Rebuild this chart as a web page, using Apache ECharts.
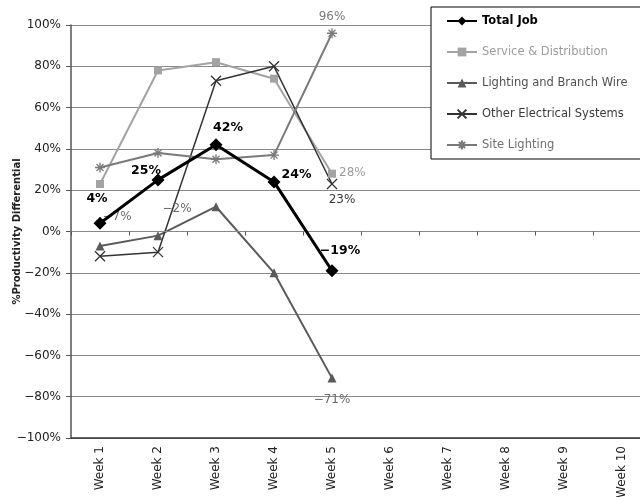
<!DOCTYPE html>
<html>
<head>
<meta charset="utf-8">
<script src="https://cdn.jsdelivr.net/npm/echarts@6/dist/echarts.min.js"></script>
<style>
  html, body { margin: 0; padding: 0; background: #fff; }
  #chart { width: 640px; height: 497px; }
</style>
</head>
<body>
<div id="chart"></div>
<script>
// Weekly productivity differential by work area
const weeks = ['Week 1', 'Week 2', 'Week 3', 'Week 4', 'Week 5', 'Week 6', 'Week 7', 'Week 8', 'Week 9', 'Week 10'];
const totalJob = [4, 25, 42, 24, -19];
const serviceDistribution = [23, 78, 82, 74, 28];
const lightingBranchWire = [-7, -2, 12, -20, -71];
const otherElectrical = [-12, -10, 73, 80, 23];
const siteLighting = [31, 38, 35, 37, 96];
const yTicks = { min: -100, max: 100, step: 20 };

const FONT = 'DejaVu Sans';
const pct = v => (v < 0 ? '\u2212' + Math.abs(v) : String(v)) + '%';

const xMark = 'path://M0,0L10,10M10,0L0,10';
const starMark = 'path://M5,0L5,10M0,5L10,5M1.5,1.5L8.5,8.5M8.5,1.5L1.5,8.5';

// label placement for points that carry a value label
function labelled(values, spec, style) {
  return values.map((v, i) => {
    const s = spec[i];
    if (!s) return { value: v, label: { show: false } };
    return {
      value: v,
      label: Object.assign({
        show: true,
        position: s.pos,
        offset: s.off || [0, 0],
        formatter: p => pct(p.value),
        fontFamily: FONT
      }, style)
    };
  });
}

const chart = echarts.init(document.getElementById('chart'));

chart.setOption({
  animation: false,
  backgroundColor: '#fff',
  grid: { left: 71, top: 25, right: -11, bottom: 59, containLabel: false, outerBoundsMode: 'none' },
  legend: {
    orient: 'vertical',
    left: 431,
    top: 7,
    padding: [8, 60, 8, 15],
    itemGap: 19,
    itemWidth: 30,
    itemHeight: 11,
    backgroundColor: '#fff',
    borderColor: '#000',
    borderWidth: 1,
    textStyle: { fontFamily: FONT, fontSize: 11.5 },
    data: [
      { name: 'Total Job', textStyle: { color: '#000', fontWeight: 'bold' } },
      { name: 'Service & Distribution', textStyle: { color: '#9c9c9c' } },
      { name: 'Lighting and Branch Wire', textStyle: { color: '#505050' } },
      { name: 'Other Electrical Systems', textStyle: { color: '#3a3a3a' } },
      { name: 'Site Lighting', textStyle: { color: '#6e6e6e' } }
    ]
  },
  xAxis: [
    {
      type: 'category',
      data: weeks,
      boundaryGap: true,
      axisLine: { onZero: true, lineStyle: { color: '#888', width: 1 } },
      axisTick: { show: true, length: 4, interval: 0, lineStyle: { color: '#555' } },
      axisLabel: { show: false, interval: 0 },
      z: 3
    },
    {
      type: 'category',
      data: weeks,
      position: 'bottom',
      boundaryGap: true,
      axisLine: { onZero: false, show: true, lineStyle: { color: '#333', width: 1.5 } },
      axisTick: { show: false },
      axisLabel: {
        rotate: 90,
        interval: 0,
        margin: 8,
        fontFamily: FONT,
        fontSize: 12,
        color: '#222'
      }
    }
  ],
  yAxis: {
    type: 'value',
    min: yTicks.min,
    max: yTicks.max,
    interval: yTicks.step,
    name: '%Productivity Differential',
    nameLocation: 'middle',
    nameGap: 49,
    nameMoveOverlap: false,
    nameTextStyle: { fontFamily: FONT, fontSize: 10, fontWeight: 'bold', color: '#222' },
    axisLine: { show: true, lineStyle: { color: '#555', width: 1.5 } },
    axisTick: { show: true, length: 5, lineStyle: { color: '#555' } },
    axisLabel: { fontFamily: FONT, fontSize: 12, color: '#222', margin: 10, formatter: v => pct(v) },
    splitLine: { show: true, lineStyle: { color: '#8a8a8a', width: 1 } }
  },
  series: [
    {
      name: 'Lighting and Branch Wire',
      type: 'line',
      xAxisIndex: 0,
      symbol: 'triangle',
      symbolSize: 9,
      lineStyle: { color: '#5a5a5a', width: 2 },
      itemStyle: { color: '#5a5a5a' },
      data: labelled(lightingBranchWire, {
        0: { pos: 'top', off: [17, -14] },
        1: { pos: 'top', off: [19, -11] },
        4: { pos: 'bottom', off: [0, 6] }
      }, { color: '#6a6a6a', fontSize: 12 }),
      z: 2
    },
    {
      name: 'Service & Distribution',
      type: 'line',
      xAxisIndex: 0,
      symbol: 'rect',
      symbolSize: 8,
      lineStyle: { color: '#a3a3a3', width: 2 },
      itemStyle: { color: '#a3a3a3' },
      data: labelled(serviceDistribution, {
        4: { pos: 'right', off: [-2, -1] }
      }, { color: '#9c9c9c', fontSize: 12 }),
      z: 2
    },
    {
      name: 'Other Electrical Systems',
      type: 'line',
      xAxisIndex: 0,
      symbol: xMark,
      symbolSize: 10,
      lineStyle: { color: '#333', width: 1.5 },
      itemStyle: { color: 'transparent', borderColor: '#333', borderWidth: 1.3 },
      data: labelled(otherElectrical, {
        4: { pos: 'bottom', off: [10, -1] }
      }, { color: '#3a3a3a', fontSize: 12 }),
      z: 2
    },
    {
      name: 'Site Lighting',
      type: 'line',
      xAxisIndex: 0,
      symbol: starMark,
      symbolSize: 10,
      lineStyle: { color: '#7a7a7a', width: 2 },
      itemStyle: { color: 'transparent', borderColor: '#7a7a7a', borderWidth: 1.3 },
      data: labelled(siteLighting, {
        4: { pos: 'top', off: [0, 0] }
      }, { color: '#7a7a7a', fontSize: 12 }),
      z: 2
    },
    {
      name: 'Total Job',
      type: 'line',
      xAxisIndex: 0,
      symbol: 'diamond',
      symbolSize: 13,
      lineStyle: { color: '#000', width: 3 },
      itemStyle: { color: '#000' },
      data: labelled(totalJob, {
        0: { pos: 'top', off: [-3, -6] },
        1: { pos: 'top', off: [-12, 9] },
        2: { pos: 'top', off: [12, 1] },
        3: { pos: 'right', off: [-4, -7] },
        4: { pos: 'top', off: [8, -2] }
      }, { color: '#000', fontSize: 12.5, fontWeight: 'bold' }),
      z: 4
    }
  ]
});
</script>
</body>
</html>
